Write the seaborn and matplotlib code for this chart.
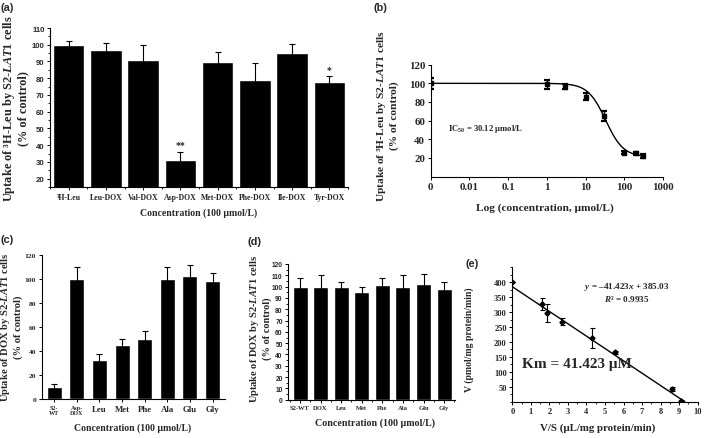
import numpy as np
import pandas as pd
import matplotlib
matplotlib.use("Agg")
import matplotlib.pyplot as plt
import seaborn as sns
from matplotlib.ticker import MultipleLocator, FixedLocator, NullLocator

# ---------------- data ----------------
a_labels = ["³H-Leu", "Leu-DOX", "Val-DOX", "Asp-DOX", "Met-DOX", "Phe-DOX", "Ile-DOX", "Tyr-DOX"]
a_values = [100.1, 96.8, 90.9, 31.0, 89.9, 79.1, 94.8, 77.5]
a_errors = [2.3, 4.4, 8.9, 5.1, 5.5, 9.8, 5.9, 3.7]
a_stars = ["", "", "", "**", "", "", "", "*"]

b_conc = [0, 1, 3, 10, 30, 100, 200, 300]
b_values = [100.0, 99.0, 96.4, 85.7, 65.2, 25.7, 24.7, 22.2]
b_errors = [6.0, 5.0, 3.0, 4.0, 5.5, 2.0, 2.0, 2.0]
b_ticklabels = ["0", "0.01", "0.1", "1", "10", "100", "1000"]
b_fit_top, b_fit_bottom, b_fit_ic50, b_fit_hill = 100.0, 21.0, 33.0, 1.9

c_labels = ["S2-\nWT", "Asp-\nDOX", "Leu", "Met", "Phe", "Ala", "Glu", "Gly"]
c_values = [10.0, 100.0, 32.8, 44.9, 50.2, 100.0, 102.3, 98.4]
c_errors = [2.8, 10.0, 4.5, 5.5, 6.5, 9.5, 9.0, 6.0]

d_labels = ["S2-WT", "DOX", "Leu", "Met", "Phe", "Ala", "Glu", "Gly"]
d_values = [99.4, 100.0, 100.0, 95.0, 101.5, 100.0, 102.6, 98.2]
d_errors = [8.5, 10.0, 4.3, 5.0, 6.0, 10.0, 8.8, 6.0]

e_x = [0.0, 1.61, 1.85, 2.70, 4.32, 5.54, 8.64, 9.09]
e_y = [400, 327, 298, 268, 212, 165, 42, 2]
e_err = [0, 20, 30, 13, 33, 5, 7, 3]
e_slope, e_intercept = -41.423, 385.03

# ---------------- style ----------------
sns.set_theme(style="ticks")
SERIF = "Liberation Serif"
SANS = "Liberation Sans"
plt.rcParams["font.family"] = [SERIF, "DejaVu Sans"]
plt.rcParams["font.weight"] = "bold"
plt.rcParams["mathtext.fontset"] = "custom"
plt.rcParams["mathtext.rm"] = "Liberation Serif:bold"
plt.rcParams["mathtext.it"] = "Liberation Serif:italic:bold"
plt.rcParams["mathtext.bf"] = "Liberation Serif:bold"
plt.rcParams["axes.linewidth"] = 0.8
plt.rcParams["xtick.direction"] = "out"
plt.rcParams["ytick.direction"] = "out"

W, H = 705, 439
fig = plt.figure(figsize=(W / 100, H / 100), dpi=100)


def rect(l, r, t, b):
    return [l / W, 1 - b / H, (r - l) / W, (b - t) / H]


def ftext(x, y, s, **kw):
    fig.text(x / W, 1 - y / H, s, ha="center", va="center", **kw)


def style_ax(ax):
    sns.despine(ax=ax)
    for sp in ["left", "bottom"]:
        ax.spines[sp].set_color("black")
        ax.spines[sp].set_linewidth(0.8)
    ax.tick_params(which="major", length=2.5, width=0.7, color="black", pad=1.5)
    ax.tick_params(which="minor", length=1.3, width=0.6, color="black")


def bar_panel(ax, labels, values, errors, width):
    df = pd.DataFrame({"label": labels, "value": values})
    sns.barplot(data=df, x="label", y="value", order=labels, color="black",
                saturation=1, width=width, errorbar=None, ax=ax)
    ax.errorbar(np.arange(len(values)), values, yerr=errors, fmt="none",
                ecolor="black", elinewidth=0.8, capsize=2.2, capthick=0.8)
    ax.set_xlabel("")
    ax.set_ylabel("")
    style_ax(ax)


ylab = "Uptake of ³H-Leu by S2-$\\mathit{LAT1}$ cells\n(% of control)"
ylab_dox = "Uptake of DOX by S2-$\\mathit{LAT1}$ cells\n(% of control)"
conc = "Concentration (100 μmol/L)"

# ---------------- (a) ----------------
axa = fig.add_axes(rect(50, 348, 29, 188))
bar_panel(axa, a_labels, a_values, a_errors, 0.84)
axa.set_xlim(-0.5, 7.5)
axa.set_ylim(15, 110)
axa.yaxis.set_major_locator(FixedLocator(np.arange(20, 111, 10)))
axa.yaxis.set_minor_locator(MultipleLocator(5))
axa.xaxis.set_minor_locator(FixedLocator(np.arange(-0.5, 8, 1)))
for t in axa.get_yticklabels():
    t.set_fontfamily(SANS); t.set_fontsize(5.6); t.set_fontweight("bold")
for t in axa.get_xticklabels():
    t.set_fontsize(5.6); t.set_fontweight("bold")
for i, (v, e, s) in enumerate(zip(a_values, a_errors, a_stars)):
    if s:
        axa.text(i, v + e + 1.5, s, ha="center", va="bottom", fontsize=7, fontweight="bold")
ftext(15, 109, ylab, rotation=90, fontsize=8.9, fontweight="bold", linespacing=1.1)
ftext(199, 213, conc, fontsize=7, fontweight="bold")
ftext(7, 8, "(a)", fontfamily=SANS, fontsize=7.8, fontweight="bold")

# ---------------- (b) ----------------
axb = fig.add_axes(rect(430.7, 663, 65.7, 177.5))
floor = 0.001
bx = [c if c > 0 else floor for c in b_conc]
xs = np.logspace(np.log10(floor), np.log10(300), 400)
fit = b_fit_bottom + (b_fit_top - b_fit_bottom) / (1 + (xs / b_fit_ic50) ** b_fit_hill)
sns.lineplot(x=xs, y=fit, ax=axb, color="black", linewidth=1.0)
axb.errorbar(bx, b_values, yerr=b_errors, fmt="s", color="black", markersize=2.5,
             elinewidth=1.0, capsize=2.5, capthick=1.6)
axb.set_xscale("log")
axb.set_xlim(floor, 1000)
axb.set_ylim(0, 120)
axb.xaxis.set_major_locator(FixedLocator([1e-3, 1e-2, 1e-1, 1, 10, 100, 1000]))
axb.xaxis.set_minor_locator(NullLocator())
axb.set_xticklabels(b_ticklabels)
axb.yaxis.set_major_locator(FixedLocator(np.arange(20, 121, 20)))
style_ax(axb)
axb.tick_params(labelsize=7.8)
axb.text(0.074, 0.434, "IC$_{50}$ = 30.12 μmol/L", transform=axb.transAxes,
         fontsize=6.2, fontweight="bold", ha="left", va="center")
ftext(387, 116, ylab, rotation=90, fontsize=8.2, fontweight="bold", linespacing=1.1)
ftext(545, 208, "Log (concentration, μmol/L)", fontsize=8.2, fontweight="bold")
ftext(380, 8, "(b)", fontfamily=SANS, fontsize=7.8, fontweight="bold")

# ---------------- (c) ----------------
axc = fig.add_axes(rect(41.7, 225, 255.7, 400.3))
bar_panel(axc, c_labels, c_values, c_errors, 0.66)
axc.set_xlim(-0.55, 7.55)
axc.set_ylim(0, 120)
axc.yaxis.set_major_locator(FixedLocator(np.arange(0, 121, 20)))
for t in axc.get_yticklabels():
    t.set_fontsize(5.4)
for i, t in enumerate(axc.get_xticklabels()):
    t.set_fontsize(4.4 if "\n" in c_labels[i] else 6.3)
    t.set_linespacing(0.95)
ftext(11, 327, ylab_dox, rotation=90, fontsize=7.6, fontweight="bold", linespacing=1.1)
ftext(133, 428, conc, fontsize=7, fontweight="bold")
ftext(7, 240, "(c)", fontfamily=SANS, fontsize=7.8, fontweight="bold")

# ---------------- (d) ----------------
axd = fig.add_axes(rect(288.3, 455, 265, 400.7))
bar_panel(axd, d_labels, d_values, d_errors, 0.73)
axd.set_xlim(-0.57, 7.53)
axd.set_ylim(0, 120)
axd.yaxis.set_major_locator(FixedLocator(np.arange(0, 121, 10)))
axd.yaxis.set_minor_locator(MultipleLocator(5))
axd.xaxis.set_minor_locator(FixedLocator(np.arange(-0.5, 8, 1)))
for t in axd.get_yticklabels():
    t.set_fontfamily(SANS); t.set_fontsize(4.8); t.set_fontweight("bold")
for t in axd.get_xticklabels():
    t.set_fontsize(4.7)
ftext(260, 329, ylab_dox, rotation=90, fontsize=7.5, fontweight="bold", linespacing=1.1)
ftext(375, 423, conc, fontsize=7.2, fontweight="bold")
ftext(254, 242, "(d)", fontfamily=SANS, fontsize=7.8, fontweight="bold")

# ---------------- (e) ----------------
axe = fig.add_axes(rect(512.3, 697.7, 268.3, 402.6))
lx = np.array([0.0, 9.3])
sns.lineplot(x=lx, y=e_slope * lx + e_intercept, ax=axe, color="black", linewidth=1.0)
axe.errorbar(e_x, e_y, yerr=e_err, fmt="D", color="black", markersize=2.6,
             elinewidth=0.8, capsize=1.8, capthick=0.8)
axe.set_xlim(0, 10)
axe.set_ylim(0, 450)
axe.xaxis.set_major_locator(MultipleLocator(1))
axe.xaxis.set_minor_locator(MultipleLocator(0.5))
axe.yaxis.set_major_locator(FixedLocator(np.arange(50, 401, 50)))
axe.yaxis.set_minor_locator(MultipleLocator(25))
style_ax(axe)
axe.tick_params(labelsize=6.0)
ftext(627, 287, "$\\mathit{y}$ = –41.423$\\mathit{x}$ + 385.03", fontsize=6.6, fontweight="bold")
ftext(627, 299, "$\\mathit{R}$² = 0.9935", fontsize=6.6, fontweight="bold")
ftext(577, 365, "Km = 41.423 μM", fontsize=11, fontweight="bold")
ftext(469, 340, "V (pmol/mg protein/min)", rotation=90, fontsize=7, fontweight="bold")
ftext(598, 428, "V/S (μL/mg protein/min)", fontsize=7.8, fontweight="bold")
ftext(472, 264, "(e)", fontfamily=SANS, fontsize=7.8, fontweight="bold")

fig.savefig("out.png", dpi=100)
